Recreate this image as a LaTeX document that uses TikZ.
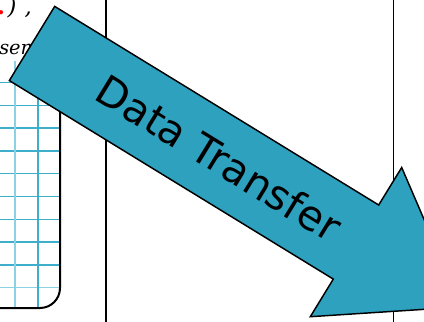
\documentclass[tikz,border=0pt]{standalone}
\usepackage{fontspec}
\newfontfamily\arrowfont{DejaVu Sans}
\newfontfamily\notefont{DejaVu Serif}
\usepackage{xcolor}
\usetikzlibrary{calc}

\definecolor{xferblue}{RGB}{46,161,191}
\definecolor{gridblue}{RGB}{62,175,203}
\definecolor{gridlight}{RGB}{140,210,228}

\begin{document}
\begin{tikzpicture}[
    x=0.75pt, y=-0.75pt,
    gridline/.style={draw=gridblue, line width=1.1pt},
    gridpale/.style={draw=gridlight, line width=1.1pt},
    panelframe/.style={draw=black, line width=1.5pt, rounded corners=15pt},
    divider/.style={draw=black, line width=1.3pt},
    xferarrow/.style={fill=xferblue, draw=black, line width=1.1pt, line join=miter},
    xferlabel/.style={font=\arrowfont\fontsize{31}{36}\selectfont, rotate=-31.5, inner sep=0pt},
    snippet/.style={inner sep=0pt, font=\notefont\itshape\fontsize{14.5}{17}\selectfont}
]
\useasboundingbox (0,0) rectangle (424,321);
\clip (0,0) rectangle (424,321);

% Grid panel
\foreach \y in {82.5,105.3,128.1,150.9,173.7,196.5,219.3,242.1,264.9}
  \draw[gridline] (-10,\y) -- (60,\y);
\draw[gridpale] (-10,287.7) -- (60,287.7);
\draw[gridpale] (15,61) -- (15,308);
\draw[gridline] (37.8,61) -- (37.8,308);
\draw[gridline] (-7.8,61) -- (-7.8,308);
\draw[panelframe] (60,90) -- (60,308) -- (-10,308);

% Dividers
\coordinate (divAtop) at (106,-5);
\coordinate (divAbot) at (106,330);
\coordinate (divBtop) at (393.5,-5);
\coordinate (divBbot) at (393.5,330);
\draw[divider] (divAtop) -- (divAbot);
\draw[divider] (divBtop) -- (divBbot);

% Cut-off text
\node[snippet, anchor=base east, font=\notefont\itshape\fontsize{17}{20}\selectfont] (title) at (32,15)
  {{\color{red}\upshape\bfseries.}\kern2pt)\kern6pt,};
\node[snippet, anchor=base west] (user) at (-1,55) {ser};

% Transfer arrow
\coordinate (tailtop) at (54.7,6.4);
\coordinate (tailbot) at (9.3,80.6);
\coordinate (notchtop) at (378.7,205.0);
\coordinate (notchbot) at (333.3,279.1);
\coordinate (barbtop) at (401.7,167.5);
\coordinate (barbbot) at (310.3,316.7);
\coordinate (tip) at (461.7,306.9);
\draw[xferarrow] (tailtop) -- (notchtop) -- (barbtop) -- (tip) -- (barbbot) -- (notchbot) -- (tailbot) -- cycle;
\node[xferlabel] (xfer) at (219,158) {Data Transfer};

\end{tikzpicture}
\end{document}
